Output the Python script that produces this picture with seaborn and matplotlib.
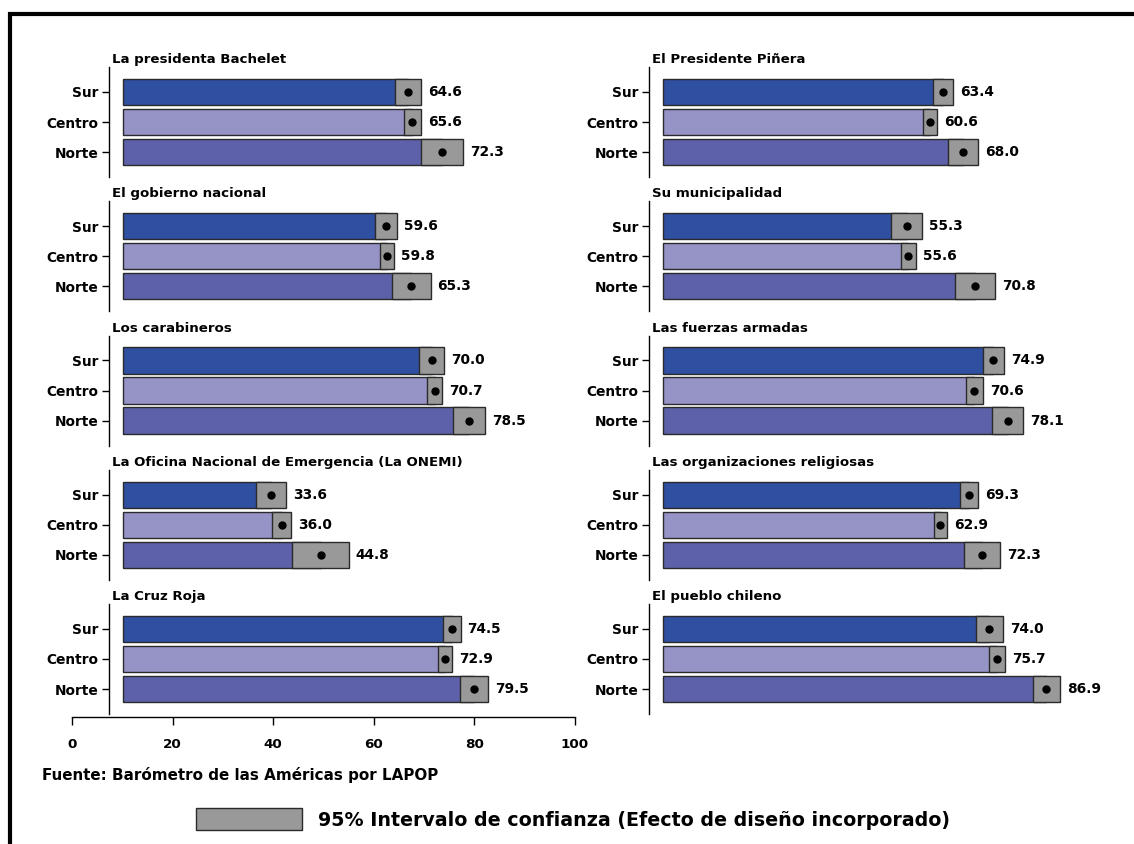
import numpy as np
import pandas as pd
import matplotlib
matplotlib.use('Agg')
import matplotlib.pyplot as plt
from matplotlib.patches import Rectangle
import seaborn as sns

# Data
titles = ['La presidenta Bachelet', 'El gobierno nacional', 'Los carabineros',
          'La Oficina Nacional de Emergencia (La ONEMI)', 'La Cruz Roja',
          'El Presidente Piñera', 'Su municipalidad', 'Las fuerzas armadas',
          'Las organizaciones religiosas', 'El pueblo chileno']
regions = ['Sur', 'Centro', 'Norte']
sur = [64.6, 59.6, 70.0, 33.6, 74.5, 63.4, 55.3, 74.9, 69.3, 74.0]
centro = [65.6, 59.8, 70.7, 36.0, 72.9, 60.6, 55.6, 70.6, 62.9, 75.7]
norte = [72.3, 65.3, 78.5, 44.8, 79.5, 68.0, 70.8, 78.1, 72.3, 86.9]
# half width of the 95% confidence interval
sur_ci = [3.0, 2.5, 2.8, 3.3, 2.0, 2.3, 3.5, 2.4, 2.0, 3.0]
centro_ci = [1.85, 1.6, 1.7, 2.15, 1.6, 1.6, 1.7, 1.9, 1.5, 1.9]
norte_ci = [4.8, 4.4, 3.6, 6.4, 3.2, 3.5, 4.5, 3.5, 4.0, 3.1]
xticks = [0, 20, 40, 60, 80, 100]
source_text = 'Fuente: Barómetro de las Américas por LAPOP'
legend_text = '95% Intervalo de confianza (Efecto de diseño incorporado)'

colors = {'Sur': '#2F4FA1', 'Centro': '#9693C7', 'Norte': '#5C61AA'}
ci_color = '#999999'
edge = '#2a2a2a'

W, H = 1134, 844
sns.set_theme(style='white')
plt.rcParams['font.family'] = ['DejaVu Sans']
plt.rcParams['font.weight'] = 'bold'
plt.rcParams['text.color'] = 'black'
plt.rcParams['xtick.color'] = 'black'
plt.rcParams['ytick.color'] = 'black'

fig = plt.figure(figsize=(W / 100, H / 100), dpi=100)


def px_box(x, y, w, h):
    # pixel box (top-left origin) -> figure fraction
    return [x / W, 1 - (y + h) / H, w / W, h / H]


for k, title in enumerate(titles):
    col, row = divmod(k, 5)
    ax = fig.add_axes(px_box(108.5 + 540 * col, 67 + 134.25 * row, 466, 110))
    df = pd.DataFrame({'region': regions,
                       'mean': [sur[k], centro[k], norte[k]],
                       'ci': [sur_ci[k], centro_ci[k], norte_ci[k]]})
    sns.barplot(data=df, x='mean', y='region', hue='region', order=regions,
                hue_order=regions, palette=colors, saturation=1, width=0.88,
                edgecolor=edge, linewidth=1, legend=False, ax=ax)
    # confidence interval boxes + mean dot
    ax.barh(np.arange(3), 2 * df['ci'], left=df['mean'] - df['ci'], height=0.88,
            color=ci_color, edgecolor=edge, linewidth=1)
    ax.plot(df['mean'], np.arange(3), 'o', color='black', markersize=5)
    for i, (m, c) in enumerate(zip(df['mean'], df['ci'])):
        ax.text(m + c + 1.6, i, f'{m:.1f}', va='center', ha='left',
                fontsize=9.9, fontweight='bold')
    ax.set_xlim(-3.2, 102.3)
    ax.set_ylim(2.833, -0.833)
    ax.set_xlabel('')
    ax.set_ylabel('')
    ax.set_xticks([])
    sns.despine(ax=ax, top=True, right=True, bottom=True)
    ax.spines['left'].set_color('black')
    ax.spines['left'].set_linewidth(1)
    ax.tick_params(axis='y', left=True, length=5, width=1, pad=2,
                   labelsize=9.9, colors='black')
    ax.set_facecolor('none')
    ax.text(0.008, 1 + 4 / 110, title, transform=ax.transAxes, ha='left',
            va='baseline', fontsize=9.6, fontweight='bold')

# shared value axis at the bottom
axb = fig.add_axes(px_box(72, 700, 503, 17))
axb.set_xlim(0, 100)
axb.set_xticks(xticks)
axb.set_xticklabels([str(t) for t in xticks])
axb.set_yticks([])
axb.set_facecolor('none')
sns.despine(ax=axb, top=True, right=True, left=True)
axb.spines['bottom'].set_color('black')
axb.spines['bottom'].set_linewidth(1)
axb.tick_params(axis='x', bottom=True, length=6, width=1, pad=9,
                labelsize=9.7, colors='black')

fig.text(42 / W, 1 - 775 / H, source_text, ha='left', va='center',
         fontsize=10.9, fontweight='bold')

# legend
fig.add_artist(Rectangle((196 / W, 1 - 830 / H), 106 / W, 22 / H,
                         transform=fig.transFigure, facecolor=ci_color,
                         edgecolor=edge, linewidth=1))
fig.text(318 / W, 1 - 820 / H, legend_text, ha='left', va='center',
         fontsize=13.7, fontweight='bold')

# outer frame (left and top edges visible)
fig.add_artist(Rectangle((10 / W, -0.1), 2, 1.1 - 14 / H,
                         transform=fig.transFigure, fill=False,
                         edgecolor='black', linewidth=3, clip_on=False))

fig.savefig('out.png', dpi=100)
